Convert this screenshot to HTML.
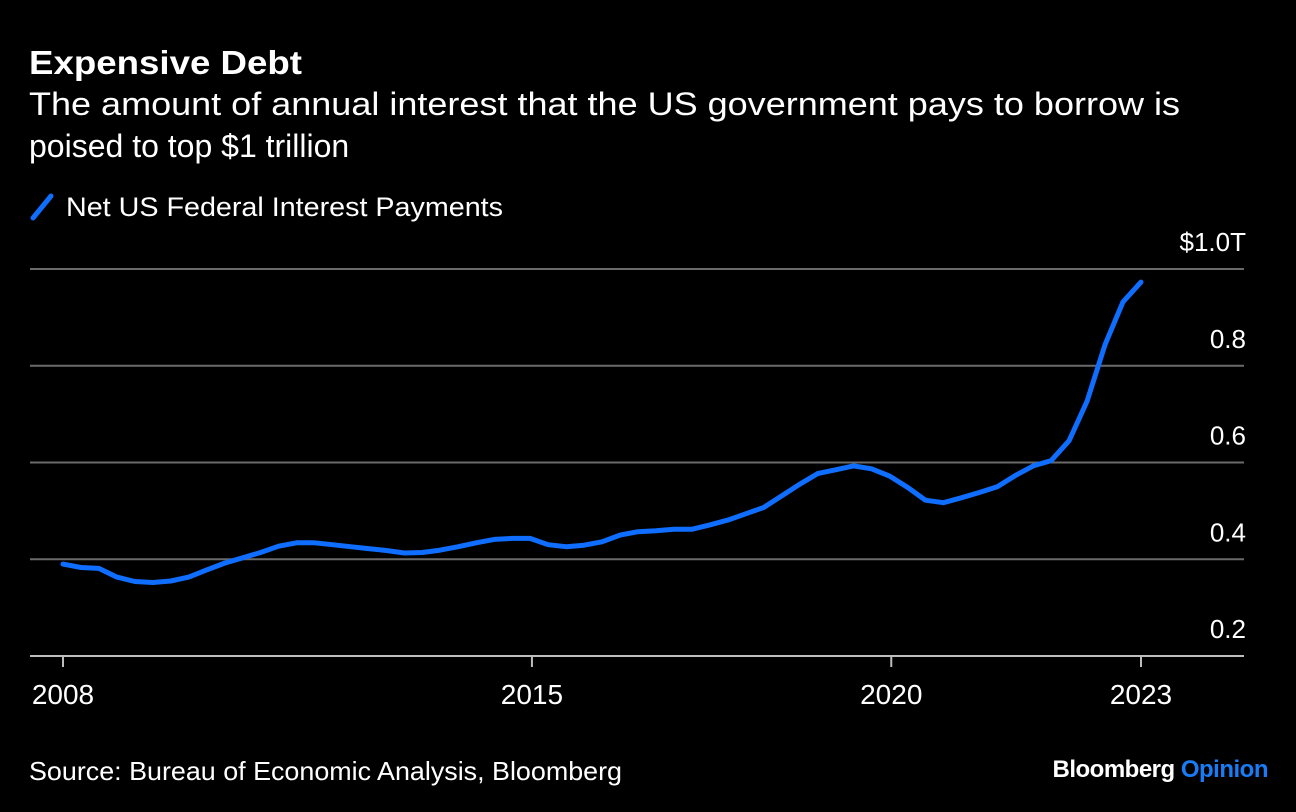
<!DOCTYPE html>
<html><head><meta charset="utf-8"><style>
html,body{margin:0;padding:0;background:#000;}
body{width:1296px;height:812px;overflow:hidden;font-family:"Liberation Sans",Arial,sans-serif;color:#fff;position:relative;}
svg{position:absolute;left:0;top:0;}
</style></head><body>
<svg id="chart" width="1296" height="812" viewBox="0 0 1296 812" xmlns="http://www.w3.org/2000/svg">
<text x="29" y="74" font-size="33" font-weight="bold" fill="#fff" font-family="Liberation Sans, sans-serif" textLength="273" lengthAdjust="spacingAndGlyphs">Expensive Debt</text>
<text font-size="32" fill="#fff" font-family="Liberation Sans, sans-serif"><tspan x="29" y="115" textLength="1151" lengthAdjust="spacingAndGlyphs">The amount of annual interest that the US government pays to borrow is</tspan><tspan x="29" y="157">poised to top $1 trillion</tspan></text>
<g>
<line x1="33" y1="218" x2="51" y2="196" stroke="#0f6eff" stroke-width="5" stroke-linecap="round"/>
<text x="66" y="216" font-size="27" fill="#fff" font-family="Liberation Sans, sans-serif" textLength="437" lengthAdjust="spacingAndGlyphs">Net US Federal Interest Payments</text>
</g>
<g id="grid"></g>
<g id="yticks"></g>
<g id="xaxis"></g>
<path id="series" fill="none" stroke="#0f6eff" stroke-width="5" stroke-linejoin="round" stroke-linecap="round"/>
<text x="29" y="780" font-size="26" fill="#fff" font-family="Liberation Sans, sans-serif" textLength="593" lengthAdjust="spacingAndGlyphs">Source: Bureau of Economic Analysis, Bloomberg</text>
<text x="1268" y="777" text-anchor="end" font-size="24" font-weight="bold" fill="#fff" font-family="Liberation Sans, sans-serif" letter-spacing="-0.5">Bloomberg <tspan fill="#1a7cf5">Opinion</tspan></text>
</svg>
<script>
const values = [0.390,0.383,0.381,0.363,0.354,0.352,0.355,0.363,0.378,0.392,0.403,0.414,0.427,0.434,0.434,0.430,0.426,0.422,0.418,0.413,0.414,0.419,0.426,0.434,0.441,0.443,0.443,0.430,0.426,0.429,0.436,0.450,0.457,0.459,0.462,0.462,0.471,0.481,0.494,0.507,0.531,0.555,0.577,0.585,0.593,0.587,0.572,0.549,0.522,0.517,0.527,0.538,0.550,0.573,0.593,0.604,0.645,0.727,0.844,0.932,0.973];
const yTicks = [0.2,0.4,0.6,0.8,1.0];
const yTickLabels = ["0.2","0.4","0.6","0.8","$1.0T"];
const xTickLabels = ["2008","2015","2020","2023"];
const xTickIndex = [0,26.1,46.1,60];

const NS="http://www.w3.org/2000/svg";
function xs(i){return 63+(i/60)*(1141-63);}
function ys(v){return 656-(v-0.2)/0.8*(656-269);}
function mk(tag,attrs,parent){const e=document.createElementNS(NS,tag);for(const k in attrs)e.setAttribute(k,attrs[k]);parent.appendChild(e);return e;}
const grid=document.getElementById('grid'), yt=document.getElementById('yticks'), xa=document.getElementById('xaxis');
yTicks.forEach((v,i)=>{
  const y=ys(v);
  const l=mk('line',{x1:30,x2:1244,y1:y,y2:y,stroke:i===0?'#bdbdbd':'#6a6a6a','stroke-width':2},grid);
  
  
  const t=mk('text',{x:1246,y:y-18,'text-anchor':'end','font-size':26,fill:'#fff','font-family':'Liberation Sans, sans-serif'},yt);
  t.textContent=yTickLabels[i];
  
  
});
xTickLabels.forEach((lab,i)=>{
  const x=xs(xTickIndex[i]);
  const tk=mk('line',{x1:x,x2:x,y1:656,y2:667,stroke:'#bdbdbd','stroke-width':2},xa);
  
  
  const t=mk('text',{x:x,y:704,'text-anchor':'middle','font-size':28,fill:'#fff','font-family':'Liberation Sans, sans-serif'},xa);
  t.textContent=lab;
  
  
});
document.getElementById('series').setAttribute('d',values.map((v,i)=>(i?'L':'M')+xs(i).toFixed(1)+','+ys(v).toFixed(1)).join(''));
</script>
</body></html>
